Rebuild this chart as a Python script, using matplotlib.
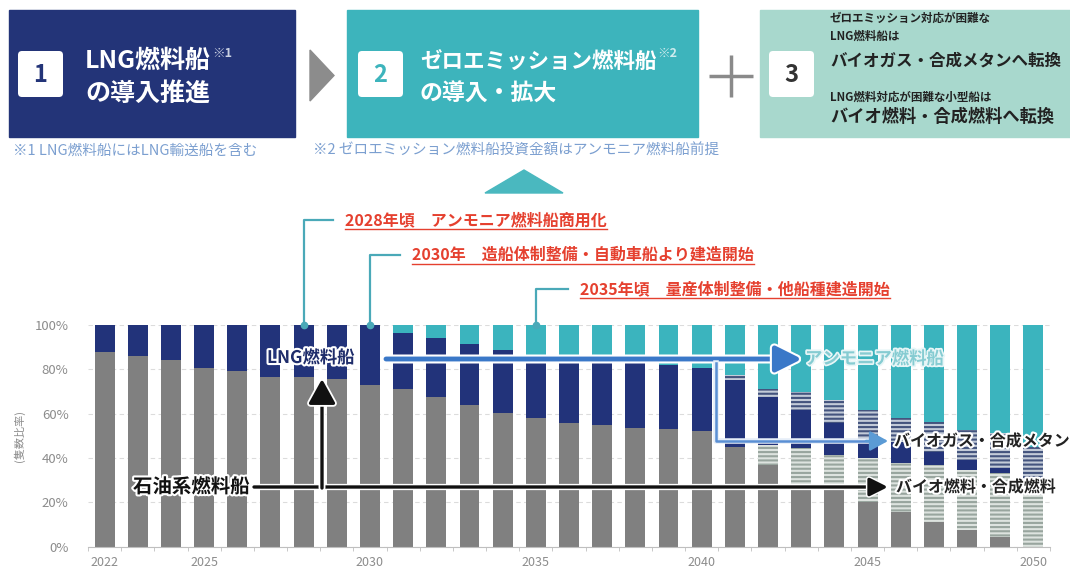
import matplotlib
matplotlib.use('Agg')
import matplotlib.pyplot as plt
import matplotlib.patheffects as pe
from matplotlib.patches import Rectangle, Polygon, FancyBboxPatch

plt.rcParams['font.family'] = ['Noto Sans CJK JP', 'DejaVu Sans']
plt.rcParams['hatch.linewidth'] = 1.5

# ---------------- data (share of ships, %) ----------------
years = list(range(2022, 2051))
oil = [88, 86, 84, 80.5, 79.3, 76.7, 76.4, 75.6, 72.9, 71.1, 67.4, 63.9, 60.2, 57.9, 55.8,
       54.9, 53.7, 52.9, 52.0, 45.1, 36.8, 27.4, 26.0, 20.0, 15.8, 11.3, 7.5, 4.5, 0]
biofuel = [0, 0, 0, 0, 0, 0, 0, 0, 0, 0, 0, 0, 0, 0, 0,
           0, 0, 0, 0, 0, 9.1, 17.0, 15.4, 20.0, 21.8, 25.6, 27.1, 28.6, 30.1]
lng = [12, 14, 16, 19.5, 20.7, 23.3, 23.6, 24.4, 27.1, 25.4, 26.6, 27.4, 28.5, 28.1, 29.2,
       29.1, 29.3, 29.1, 28.5, 30.1, 21.6, 17.3, 14.3, 7.8, 9.5, 6.0, 4.5, 2.2, 0]
biogas = [0, 0, 0, 0, 0, 0, 0, 0, 0, 0, 0, 0, 0, 0, 0,
          0, 0, 0, 0, 2.3, 3.8, 8.3, 10.5, 14.0, 11.1, 13.5, 13.5, 15.9, 15.0]
ammonia = [0, 0, 0, 0, 0, 0, 0, 0, 0, 3.5, 6.0, 8.7, 11.3, 14.0, 15.0,
           16.0, 17.0, 18.0, 19.5, 22.6, 28.6, 30.1, 33.8, 38.3, 41.8, 43.6, 47.4, 48.8, 54.9]

tick_years = [2022, 2025, 2030, 2035, 2040, 2045, 2050]
y_ticks = [0, 20, 40, 60, 80, 100]
y_tick_labels = ['0%', '20%', '40%', '60%', '80%', '100%']
milestone_years = [2028, 2030, 2035]
milestone_texts = ['2028年頃　アンモニア燃料船商用化',
                   '2030年　造船体制整備・自動車船より建造開始',
                   '2035年頃　量産体制整備・他船種建造開始']

# ---------------- colours ----------------
C_OIL = '#808080'
C_LNG = '#22337a'
C_AMM = '#3bb4be'
C_BIOF_BG, C_BIOF_LN = '#dde3df', '#98a59e'
C_BIOG_BG, C_BIOG_LN = '#c3cbd8', '#44547e'
C_TEAL_LINE = '#4aa9b8'
C_RED = '#e5402f'
C_NOTE = '#7b9fd0'

W, H = 1070, 570
fig = plt.figure(figsize=(W / 100, H / 100), dpi=100)

# ---------------- main chart ----------------
ax = fig.add_axes([88 / W, (H - 546.7) / H, 962 / W, 221.7 / H])
bw = 0.6
bottom = [0.0] * len(years)
series = [(oil, C_OIL, C_OIL, None), (biofuel, C_BIOF_BG, C_BIOF_LN, '----'),
          (lng, C_LNG, C_LNG, None), (biogas, C_BIOG_BG, C_BIOG_LN, '----'),
          (ammonia, C_AMM, C_AMM, None)]
for vals, fc, ec, hatch in series:
    ax.bar(years, vals, bw, bottom=bottom, color=fc, edgecolor=ec, hatch=hatch,
           linewidth=0, zorder=2)
    bottom = [b + v for b, v in zip(bottom, vals)]

ax.set_xlim(years[0] - 0.5, years[-1] + 0.5)
ax.set_ylim(0, 100)
ax.set_yticks(y_ticks)
ax.set_yticklabels(y_tick_labels, color='#8c8c8c', fontsize=9.5)
ax.tick_params(axis='y', length=0, pad=14)
ax.set_xticks(tick_years)
ax.set_xticklabels([str(y) for y in tick_years], color='#8c8c8c', fontsize=9)
ax.set_xticks([y - 0.5 for y in years] + [years[-1] + 0.5], minor=True)
ax.tick_params(axis='x', which='major', length=0, pad=7)
ax.tick_params(axis='x', which='minor', length=3, color='#bfbfbf')
ax.yaxis.grid(True, linestyle=(0, (4, 3)), color='#dcdcdc', lw=0.8)
ax.set_axisbelow(True)
for s in ['top', 'right', 'left']:
    ax.spines[s].set_visible(False)
ax.spines['bottom'].set_color('#bfbfbf')
ax.set_ylabel('(隻数比率)', fontsize=8, color='#8c8c8c')
ax.yaxis.set_label_coords(-0.0655, 0.5)

# ---------------- overlay (pixel coordinates) ----------------
ov = fig.add_axes([0, 0, 1, 1], zorder=5)
ov.set_xlim(0, W)
ov.set_ylim(H, 0)
ov.axis('off')


def px(year, pct):
    x, y = ax.transData.transform((year, pct))
    return x, H - y


renderer = fig.canvas.get_renderer()
white_stroke = [pe.withStroke(linewidth=3, foreground='white')]

# --- top boxes ---
ov.add_patch(Rectangle((9, 10), 286, 127, color='#233478', zorder=1))
ov.add_patch(Rectangle((347, 10), 351, 127, color='#3db4bc', zorder=1))
ov.add_patch(Rectangle((760, 10), 320, 127, color='#a8d8cd', zorder=1))
for x0, num, col in [(18, '1', '#233478'), (358, '2', '#3db4bc'), (769, '3', '#333333')]:
    ov.add_patch(FancyBboxPatch((x0, 51), 45, 46, boxstyle='round,pad=0,rounding_size=4',
                                fc='white', ec='none', zorder=2))
    ov.text(x0 + 22.5, 74.5, num, ha='center', va='center', fontsize=17,
            fontweight='bold', color=col, zorder=3)

t1 = ov.text(85, 61, 'LNG燃料船', ha='left', va='center', fontsize=18,
             fontweight='bold', color='white', zorder=3)
ov.text(85, 94, 'の導入推進', ha='left', va='center', fontsize=18,
        fontweight='bold', color='white', zorder=3)
bb = t1.get_window_extent(renderer)
ov.text(bb.x1 + 1, 53, '※1', ha='left', va='center', fontsize=9,
        fontweight='bold', color='#c9d0e3', zorder=3)

t2 = ov.text(420, 61, 'ゼロエミッション燃料船', ha='left', va='center', fontsize=15.5,
             fontweight='bold', color='white', zorder=3)
ov.text(420, 94, 'の導入・拡大', ha='left', va='center', fontsize=16.5,
        fontweight='bold', color='white', zorder=3)
bb = t2.get_window_extent(renderer)
ov.text(bb.x1 + 1, 53, '※2', ha='left', va='center', fontsize=9,
        fontweight='bold', color='#d0ecee', zorder=3)

box3_lines = [(18, 'ゼロエミッション対応が困難な', 8.3), (36, 'LNG燃料船は', 8.3),
              (61, 'バイオガス・合成メタンへ転換', 11.9), (97, 'LNG燃料対応が困難な小型船は', 8.3),
              (117, 'バイオ燃料・合成燃料へ転換', 12.4)]
for yy, txt, fs in box3_lines:
    ov.text(830, yy, txt, ha='left', va='center', fontsize=fs, fontweight='bold',
            color='#222222', zorder=3)

# chevron and plus
ov.add_patch(Polygon([(310, 50), (310, 101), (334, 75.5)], color='#8c8c8c', zorder=2))
ov.plot([709, 753], [76, 76], color='#8a8a8a', lw=2.5, solid_capstyle='butt')
ov.plot([731, 731], [55, 97], color='#8a8a8a', lw=2.5, solid_capstyle='butt')

# footnotes
ov.text(13, 151, '※1 LNG燃料船にはLNG輸送船を含む', ha='left', va='center',
        fontsize=10.5, color=C_NOTE)
ov.text(313, 151, '※2 ゼロエミッション燃料船投資金額はアンモニア燃料船前提', ha='left',
        va='center', fontsize=10.5, color=C_NOTE)

# teal up-triangle
ov.add_patch(Polygon([(485, 193), (563, 193), (524, 170)], color='#4ab8bf', zorder=2))

# --- milestones ---
text_left = [345, 412, 580]
text_y = [220, 255, 289]
for yr, txt, xl, yy in zip(milestone_years, milestone_texts, text_left, text_y):
    bx, by = px(yr, 100)
    ov.plot([bx, bx, xl - 12], [by, yy, yy], color=C_TEAL_LINE, lw=1.6, zorder=4)
    ov.plot([bx], [by], marker='o', ms=4.5, color=C_TEAL_LINE, zorder=4)
    t = ov.text(xl, yy, txt, ha='left', va='center', fontsize=11.5,
                fontweight='bold', color=C_RED, zorder=4)
    b = t.get_window_extent(renderer)
    ov.plot([b.x0, b.x1], [H - b.y0 + 0.5, H - b.y0 + 0.5], color=C_RED, lw=1.0, zorder=4)

# --- chart annotations ---
# blue horizontal arrow (LNG -> ammonia)
ov.annotate('', xy=(802, 359), xytext=(386, 359),
            arrowprops=dict(arrowstyle='-|>,head_length=1.0,head_width=0.5', lw=3.5,
                            color='#3a78c8', mutation_scale=16, shrinkA=0, shrinkB=0,
                            path_effects=[pe.withStroke(linewidth=6.5, foreground='white')]),
            zorder=6)
# L-shaped thin arrow (LNG -> biogas)
ov.plot([716, 716, 872], [363, 441, 441], color='#5a8fd4', lw=1.8, zorder=6,
        path_effects=[pe.withStroke(linewidth=4, foreground='#e6eef8')])
ov.annotate('', xy=(888, 441), xytext=(866, 441),
            arrowprops=dict(arrowstyle='-|>,head_length=1.0,head_width=0.55', lw=1.8,
                            color='#5b9bd5', mutation_scale=11, shrinkA=0, shrinkB=0),
            zorder=6)
# black arrow (oil -> biofuel)
ov.annotate('', xy=(888, 487), xytext=(254, 487),
            arrowprops=dict(arrowstyle='-|>,head_length=1.0,head_width=0.5', lw=2.4,
                            color='#111111', mutation_scale=11, shrinkA=0, shrinkB=0,
                            path_effects=[pe.withStroke(linewidth=4.5, foreground='white')]),
            zorder=6)
# black up arrow (oil -> LNG)
ov.annotate('', xy=(322, 379), xytext=(322, 488),
            arrowprops=dict(arrowstyle='-|>,head_length=1.0,head_width=0.55', lw=2.4,
                            color='#111111', mutation_scale=15, shrinkA=0, shrinkB=0,
                            path_effects=[pe.withStroke(linewidth=5, foreground='white')]),
            zorder=6)

ov.text(267, 358, 'LNG燃料船', ha='left', va='center', fontsize=12.5, fontweight='bold',
        color='#1f2d6b', zorder=7, path_effects=white_stroke)
ov.text(805, 359, 'アンモニア燃料船', ha='left', va='center', fontsize=12.5, fontweight='bold',
        color='#86ccd2', zorder=7, path_effects=[pe.withStroke(linewidth=2.5, foreground='#e8f6f7')])
ov.text(894, 441, 'バイオガス・合成メタン', ha='left', va='center', fontsize=11.5,
        fontweight='bold', color='#222222', zorder=7, path_effects=white_stroke)
ov.text(896, 487, 'バイオ燃料・合成燃料', ha='left', va='center', fontsize=11.5,
        fontweight='bold', color='#222222', zorder=7, path_effects=white_stroke)
ov.text(133, 487, '石油系燃料船', ha='left', va='center', fontsize=14, fontweight='bold',
        color='#111111', zorder=7, path_effects=white_stroke)

fig.savefig('out.png', dpi=100, facecolor='white')
